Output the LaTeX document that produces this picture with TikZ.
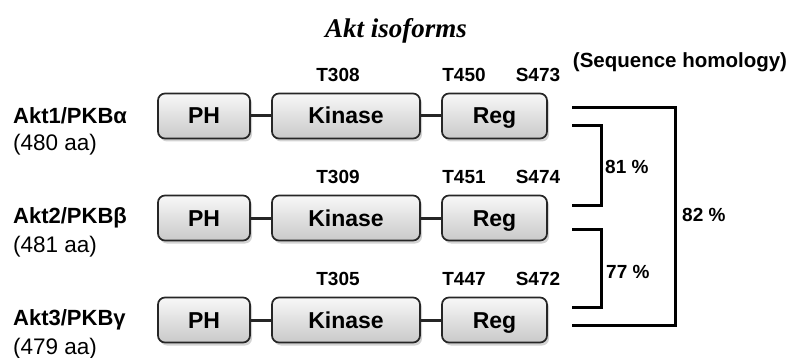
\documentclass[tikz,border=0pt]{standalone}
\usepackage{fontspec}
\setmainfont{Liberation Sans}
\newfontfamily\titlefont{Liberation Serif}
\usetikzlibrary{shadows}
\begin{document}
\begin{tikzpicture}[x=1pt,y=-1pt,
  dom/.style={draw=black!85, line width=1.7pt, rounded corners=7pt,
    top color=gray!6, bottom color=gray!42, minimum height=45pt, inner sep=0pt,
    text height=16pt, text depth=0pt,
    font=\fontsize{23}{25}\selectfont\bfseries,
    drop shadow={shadow xshift=2pt, shadow yshift=-3pt, opacity=0.35}},
  link/.style={line width=3pt, black!85},
  brk/.style={line width=3pt, black},
  site/.style={font=\fontsize{19}{21}\selectfont\bfseries, inner sep=0pt},
  iso/.style={anchor=west, inner sep=0pt, font=\fontsize{22}{24}\selectfont\bfseries},
  len/.style={anchor=west, inner sep=0pt, font=\fontsize{22.5}{24}\selectfont},
  pct/.style={anchor=west, inner sep=0pt, font=\fontsize{19}{21}\selectfont\bfseries}]
\useasboundingbox (0,0) rectangle (786,358);
\node[inner sep=0pt, font=\titlefont\fontsize{27}{29}\selectfont\bfseries\itshape] (title) at (396,31) {Akt isoforms};
\node[inner sep=0pt, font=\fontsize{20.5}{22}\selectfont\bfseries] (homol) at (680,62) {(Sequence homology)};
\foreach \i/\y/\nm/\aa/\ta/\tb/\sc in {
  1/116/{Akt1/PKBα}/480/T308/T450/S473,
  2/218/{Akt2/PKBβ}/481/T309/T451/S474,
  3/320/{Akt3/PKBγ}/479/T305/T447/S472}{
  \node[dom, minimum width=92pt] (ph\i) at (204,\y) {PH};
  \node[dom, minimum width=148pt] (kin\i) at (346,\y) {Kinase};
  \node[dom, minimum width=105pt] (reg\i) at (494.5,\y) {Reg};
  \draw[link] (ph\i.east) -- (kin\i.west);
  \draw[link] (kin\i.east) -- (reg\i.west);
  \node[iso] (name\i) at (13,\y) {\nm};
  \node[len] (len\i) at (13,\y+29) {(\aa\ aa)};
  \node[site] (ta\i) at (338,\y-41) {\ta};
  \node[site] (tb\i) at (464,\y-41) {\tb};
  \node[site] (sc\i) at (538,\y-41) {\sc};
}
% 81 % bracket
\coordinate (a1) at (572,126);
\coordinate (a2) at (601,126);
\coordinate (a3) at (601,205);
\coordinate (a4) at (572,205);
\draw[brk] (a1) -- (a2) -- (a3) -- (a4);
\node[pct] (p81) at (605,167) {81 \%};
% 77 % bracket
\coordinate (b1) at (572,229);
\coordinate (b2) at (601,229);
\coordinate (b3) at (601,307);
\coordinate (b4) at (572,307);
\draw[brk] (b1) -- (b2) -- (b3) -- (b4);
\node[pct] (p77) at (606,272) {77 \%};
% 82 % bracket
\coordinate (c1) at (572,108);
\coordinate (c2) at (675,108);
\coordinate (c3) at (675,325);
\coordinate (c4) at (572,325);
\draw[brk] (c1) -- (c2) -- (c3) -- (c4);
\node[pct] (p82) at (682,215) {82 \%};
\end{tikzpicture}
\end{document}
